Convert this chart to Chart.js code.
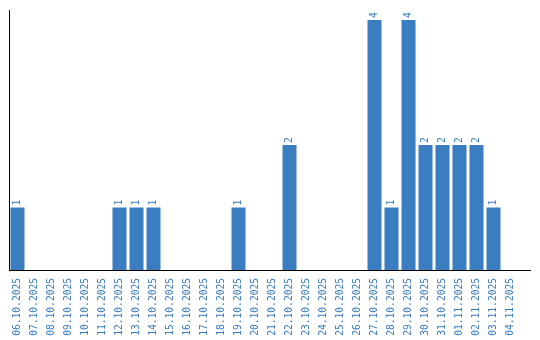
<!DOCTYPE html>
<html>
<head>
<meta charset="utf-8">
<script src="https://cdn.jsdelivr.net/npm/chart.js@4/dist/chart.umd.min.js"></script>
<style>
  body { margin: 0; background: #fff; }
  canvas { display: block; }
</style>
</head>
<body>
<canvas id="chart" width="540" height="340"></canvas>
<script>
const dates = [
  "06.10.2025", "07.10.2025", "08.10.2025", "09.10.2025", "10.10.2025",
  "11.10.2025", "12.10.2025", "13.10.2025", "14.10.2025", "15.10.2025",
  "16.10.2025", "17.10.2025", "18.10.2025", "19.10.2025", "20.10.2025",
  "21.10.2025", "22.10.2025", "23.10.2025", "24.10.2025", "25.10.2025",
  "26.10.2025", "27.10.2025", "28.10.2025", "29.10.2025", "30.10.2025",
  "31.10.2025", "01.11.2025", "02.11.2025", "03.11.2025", "04.11.2025"
];
const counts = [
  1, 0, 0, 0, 0,
  0, 1, 1, 1, 0,
  0, 0, 0, 1, 0,
  0, 2, 0, 0, 0,
  0, 4, 1, 4, 2,
  2, 2, 2, 1, 0
];

const blue = "#3b7dc1";
const textBlue = "#3a7cc0";
const monoFont = { family: "DejaVu Sans Mono", size: 9.6 };

// value labels above bars, rotated like the tick labels
const barLabels = {
  id: "barLabels",
  afterDatasetsDraw(chart) {
    const ctx = chart.ctx;
    const meta = chart.getDatasetMeta(0);
    ctx.save();
    ctx.fillStyle = textBlue;
    ctx.font = "9.6px 'DejaVu Sans Mono'";
    ctx.textAlign = "left";
    ctx.textBaseline = "middle";
    meta.data.forEach((bar, i) => {
      if (!counts[i]) return;
      ctx.save();
      ctx.translate(bar.x, bar.y - 2);
      ctx.rotate(-Math.PI / 2);
      ctx.fillText(String(counts[i]), 0, 0);
      ctx.restore();
    });
    ctx.restore();
  }
};

// the x axis line runs a bit past the last category
const axisExtend = {
  id: "axisExtend",
  afterDraw(chart) {
    const { ctx, chartArea } = chart;
    ctx.save();
    ctx.strokeStyle = "#000";
    ctx.lineWidth = 1;
    ctx.beginPath();
    ctx.moveTo(chartArea.right, chartArea.bottom + 0.5);
    ctx.lineTo(chartArea.right + 12, chartArea.bottom + 0.5);
    ctx.stroke();
    ctx.restore();
  }
};

new Chart(document.getElementById("chart"), {
  type: "bar",
  data: {
    labels: dates,
    datasets: [{
      data: counts,
      backgroundColor: blue,
      borderWidth: 0,
      categoryPercentage: 1,
      barPercentage: 14 / 17
    }]
  },
  options: {
    responsive: false,
    animation: false,
    layout: { padding: { left: 0, top: 10, right: 21, bottom: 0 } },
    plugins: {
      legend: { display: false },
      tooltip: { enabled: false }
    },
    scales: {
      x: {
        grid: { display: false },
        border: { display: true, color: "#000", width: 1 },
        ticks: {
          color: textBlue,
          font: monoFont,
          minRotation: 90,
          maxRotation: 90,
          autoSkip: false,
          padding: 0
        },
        afterFit(scale) { scale.height = 70; }
      },
      y: {
        min: 0,
        max: 4.16,
        grid: { display: false },
        border: { display: true, color: "#000", width: 1 },
        ticks: { display: false },
        afterFit(scale) { scale.width = 9; }
      }
    }
  },
  plugins: [barLabels, axisExtend]
});
</script>
</body>
</html>
